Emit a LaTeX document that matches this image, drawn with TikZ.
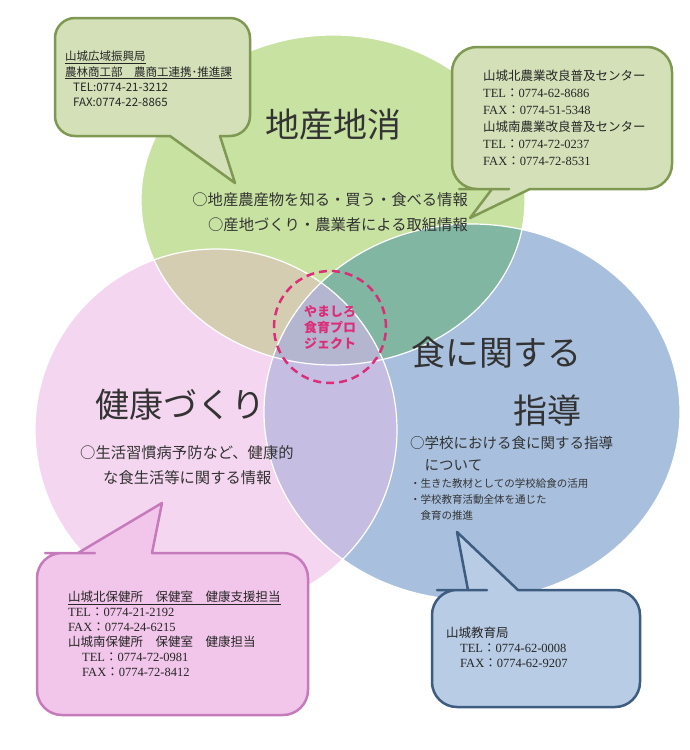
\documentclass[tikz,border=0pt]{standalone}
\usepackage{fontspec}
\newfontfamily\jp{Noto Sans CJK JP}
\newfontfamily\lserif{Liberation Serif}
\usetikzlibrary{positioning}
\definecolor{cgreen}{HTML}{C8E2A2}
\definecolor{cpink}{HTML}{F5D6F0}
\definecolor{cblue}{HTML}{A8C0DE}
\definecolor{cgp}{HTML}{D4CDB2}
\definecolor{cgb}{HTML}{80B6A2}
\definecolor{cpb}{HTML}{C5BEE2}
\definecolor{cgpb}{HTML}{B4B6CF}
\definecolor{bubg}{HTML}{D3E0B8}
\definecolor{bubgline}{HTML}{7F9852}
\definecolor{bubp}{HTML}{F2C6EA}
\definecolor{bubpline}{HTML}{C57BBB}
\definecolor{bubb}{HTML}{B8CCE5}
\definecolor{bubbline}{HTML}{3E5C80}
\definecolor{proj}{HTML}{DC2E78}
\newcommand{\telfax}[2]{{\lserif #1}：{\lserif #2}}

\begin{document}
\begin{tikzpicture}[x=1pt,y=-1pt,
  txt/.style={inner sep=0pt,text=black!80},
  title/.style={txt,font={\jp\fontsize{34}{40}\selectfont}},
  body/.style={txt,align=left,anchor=north west,font={\jp\fontsize{15.3}{25}\selectfont}},
  memo/.style={txt,align=left,anchor=north west,text=black!85,font={\jp\fontsize{12.5}{17}\selectfont}},
  bubbleG/.style={fill=bubg,draw=bubgline,line width=2.5pt,line join=round},
  bubbleP/.style={fill=bubp,draw=bubpline,line width=2.5pt,line join=round},
  bubbleB/.style={fill=bubb,draw=bubbline,line width=2.5pt,line join=round}]
  \useasboundingbox (0,0) rectangle (690,750);
  \def\ellG{(333,200) ellipse [x radius=192,y radius=165]} % 地産地消
  \def\ellP{(216,430) ellipse [x radius=181,y radius=181]} % 健康づくり
  \def\ellB{(472,412) ellipse [x radius=208,y radius=188]} % 食に関する指導
  \fill[cgreen] \ellG;
  \fill[cpink] \ellP;
  \fill[cblue] \ellB;
  \begin{scope} \clip \ellG; \fill[cgp] \ellP; \end{scope}
  \begin{scope} \clip \ellG; \fill[cgb] \ellB; \end{scope}
  \begin{scope} \clip \ellP; \fill[cpb] \ellB; \end{scope}
  \begin{scope} \clip \ellG; \clip \ellP; \fill[cgpb] \ellB; \end{scope}
  \draw[white,line width=1.2pt] \ellG \ellP \ellB;
  % 吹き出し
  \draw[bubbleG] (150,18) [rounded corners=20] -- (55,18) -- (55,136) -- (110,136) [sharp corners] -- (170,136) -- (235,183) -- (220,136) -- (225,136) [rounded corners=20] -- (250,136) -- (250,18) -- cycle;
  \draw[bubbleG] (560,47) [rounded corners=25] -- (452,47) -- (452,189) -- (484,189) [sharp corners] -- (492,189) -- (470,218) -- (530,189) -- (535,189) [rounded corners=25] -- (672,189) -- (672,47) -- cycle;
  \draw[bubbleP] (200,715) [rounded corners=25] -- (37,715) -- (37,553) -- (70,553) [sharp corners] -- (78,553) -- (162,503) -- (152,553) -- (160,553) [rounded corners=25] -- (308,553) -- (308,715) -- cycle;
  \draw[bubbleB] (540,707) [rounded corners=25] -- (432,707) -- (432,590) -- (462,590) [sharp corners] -- (468,590) -- (457,532) -- (518,590) -- (524,590) [rounded corners=25] -- (640,590) -- (640,707) -- cycle;
  % 円の中の文字
  \node[circle,draw=proj,line width=2.5pt,dash pattern=on 8pt off 5pt,minimum size=112pt,inner sep=0pt,align=center,text=proj,font={\jp\bfseries\fontsize{13}{16}\selectfont}] (project) at (330,327) {やましろ\\食育プロ\\ジェクト};
  \node[title] (chisan) at (333,125) {地産地消};
  \node[body,align=right,anchor=north east] (chisaninfo) at (468,192) {○地産農産物を知る・買う・食べる情報\\○産地づくり・農業者による取組情報};
  \node[title,align=right,anchor=north east,font={\jp\fontsize{34}{58}\selectfont}] (shoku) at (582,337) {食に関する\\指導};
  \node[txt,align=left,anchor=north west,font={\jp\fontsize{14.5}{22}\selectfont}] (shokuinfo) at (410,436) {○学校における食に関する指導\\\hspace*{1em}について};
  \node[txt,align=left,anchor=north west,font={\jp\fontsize{10.5}{16}\selectfont}] (shokusub) at (410,478) {・生きた教材としての学校給食の活用\\・学校教育活動全体を通じた\\\hspace*{1em}食育の推進};
  \node[title] (kenko) at (180,405) {健康づくり};
  \node[body] (kenkoinfo) at (80,445) {○生活習慣病予防など、健康的\\\hspace*{23pt}な食生活等に関する情報};
  % 吹き出しの文字
  \node[memo,font={\jp\fontsize{11.5}{15.3}\selectfont}] (shinko) at (65,51) {\underline{山城広域振興局}\\\underline{農林商工部　農商工連携･推進課}\\\hspace*{8pt}TEL:0774-21-3212\\\hspace*{8pt}FAX:0774-22-8865};
  \node[memo] (fukyu) at (483,70) {山城北農業改良普及センター\\\telfax{TEL}{0774-62-8686}\\\telfax{FAX}{0774-51-5348}\\山城南農業改良普及センター\\\telfax{TEL}{0774-72-0237}\\\telfax{FAX}{0774-72-8531}};
  \node[memo,font={\jp\fontsize{12.5}{15}\selectfont}] (hoken) at (68,591) {\underline{山城北保健所　保健室　健康支援担当}\\\telfax{TEL}{0774-21-2192}\\\telfax{FAX}{0774-24-6215}\\山城南保健所　保健室　健康担当\\\hspace*{14pt}\telfax{TEL}{0774-72-0981}\\\hspace*{14pt}\telfax{FAX}{0774-72-8412}};
  \node[memo,font={\jp\fontsize{12.5}{15}\selectfont}] (kyoiku) at (446,627) {山城教育局\\\hspace*{14pt}\telfax{TEL}{0774-62-0008}\\\hspace*{14pt}\telfax{FAX}{0774-62-9207}};
\end{tikzpicture}
\end{document}
